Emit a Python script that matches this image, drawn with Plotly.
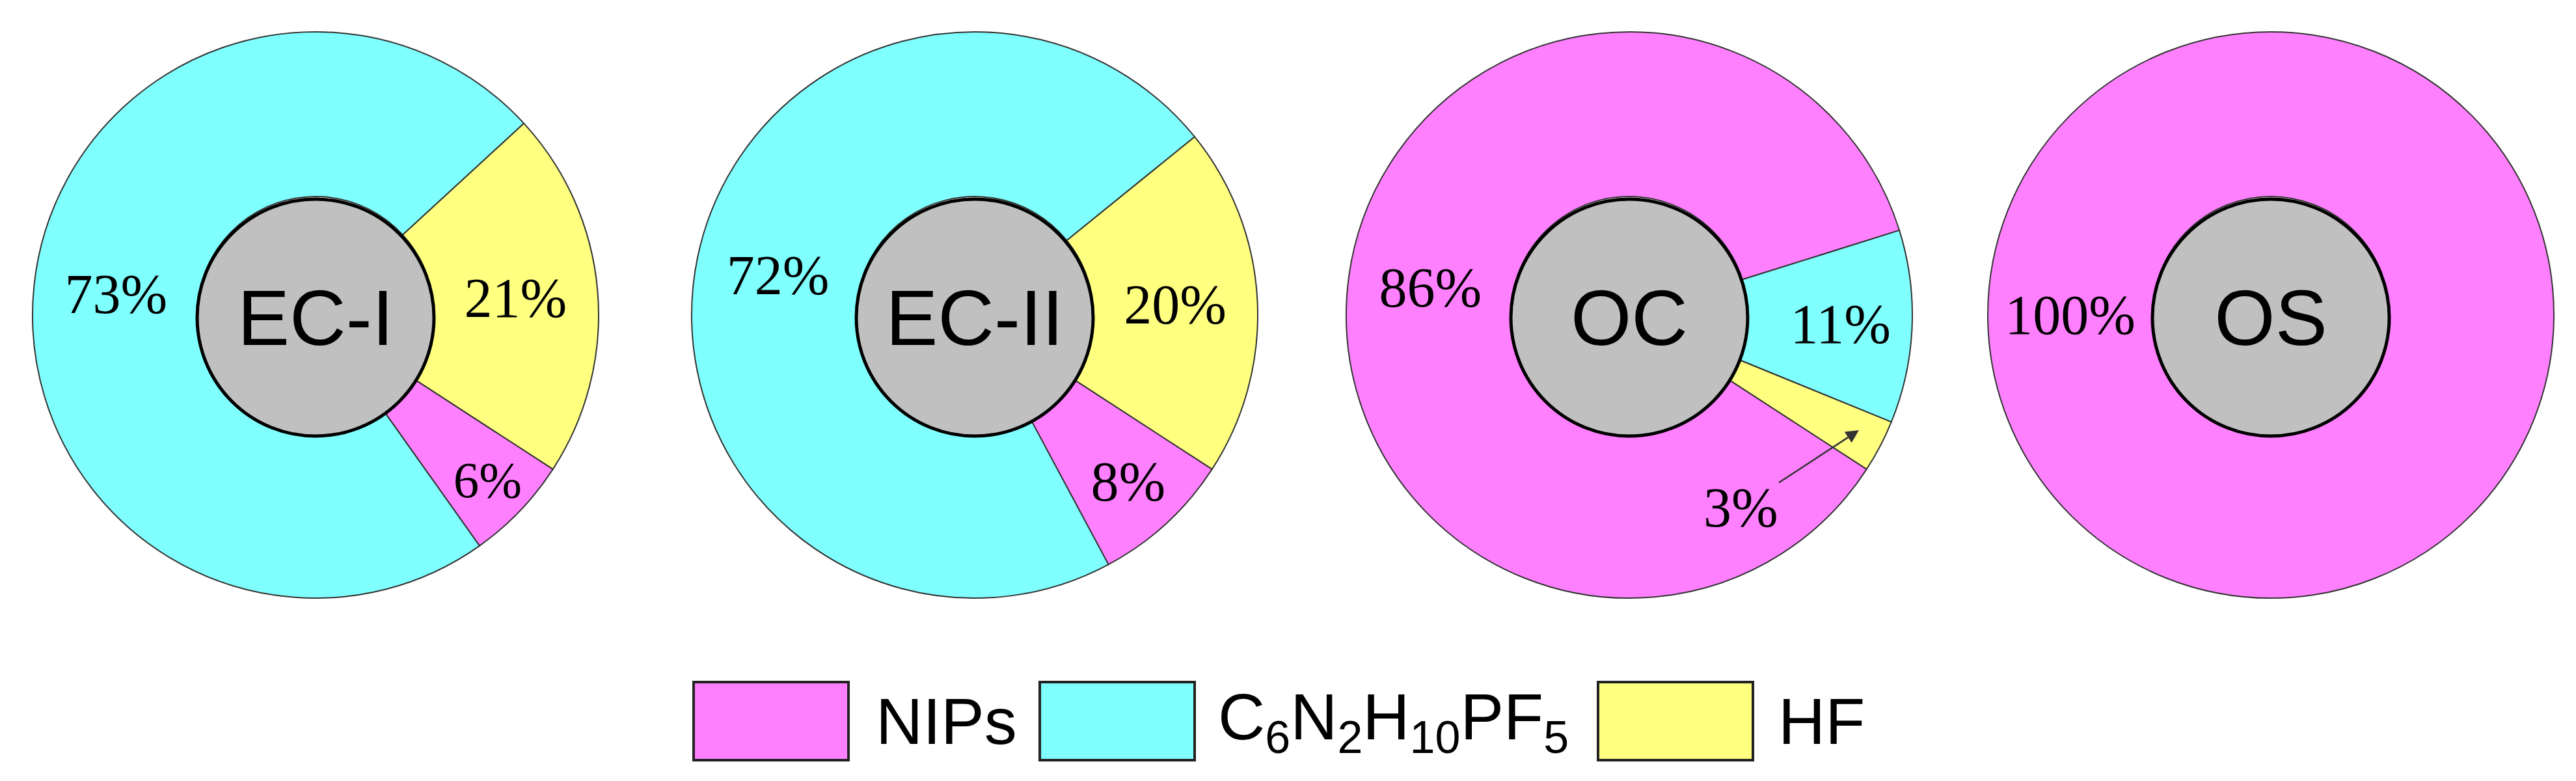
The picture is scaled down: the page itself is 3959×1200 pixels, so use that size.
import plotly.graph_objects as go

# composition of each sample, in percent
samples = ["EC-I", "EC-II", "OC", "OS"]
components = ["NIPs", "C<sub>6</sub>N<sub>2</sub>H<sub>10</sub>PF<sub>5</sub>", "HF"]
nips = [6, 8, 86, 100]
c6n2h10pf5 = [73, 72, 11, 0]
hf = [21, 20, 3, 0]

colors = ["#FF80FF", "#80FFFF", "#FFFF80"]

W, H = 3959, 1200
centers_x = [477, 1490, 2496, 3482]
center_y = 476
r_out = 435
r_in = 182
rotations = [123, 123, 123, 90]


def dom(cx, cy, r):
    return dict(x=[(cx - r) / W, (cx + r) / W], y=[1 - (cy + r) / H, 1 - (cy - r) / H])


fig = go.Figure()

for i, name in enumerate(samples):
    vals = [nips[i], c6n2h10pf5[i], hf[i]]
    labs, v2, cols, txt = [], [], [], []
    for lab, v, c in zip(components, vals, colors):
        if v <= 0:
            continue
        labs.append(lab)
        v2.append(v)
        cols.append(c)
        # the small OC slice gets an arrow label instead
        txt.append("" if (name == "OC" and lab == "HF") else f"{v}%")

    fig.add_trace(go.Pie(
        values=v2, labels=labs, text=txt, textinfo="text",
        textposition="inside", insidetextorientation="horizontal",
        hole=r_in / r_out, sort=False, direction="clockwise",
        rotation=rotations[i],
        marker=dict(colors=cols, line=dict(color="#333333", width=2)),
        insidetextfont=dict(family="Liberation Serif", size=86, color="black"),
        domain=dom(centers_x[i], center_y, r_out),
        showlegend=False, hoverinfo="label+value",
    ))

    # grey centre disc with the sample name, on top of the ring
    fig.add_trace(go.Pie(
        values=[1], labels=[name], text=[name], textinfo="text",
        textposition="inside", insidetextorientation="horizontal",
        marker=dict(colors=["#C0C0C0"], line=dict(color="black", width=5)),
        insidetextfont=dict(family="Liberation Sans", size=120, color="black"),
        domain=dom(centers_x[i], center_y + 4, r_in),
        sort=False, showlegend=False, hoverinfo="skip",
    ))

# arrow label for the 3% HF slice of OC
fig.add_annotation(
    x=2849 / W, y=1 - 653 / H, xref="paper", yref="paper",
    text=f"{hf[2]}%", showarrow=True, ax=-182, ay=119,
    arrowhead=2, arrowsize=1.6, arrowwidth=2.5, arrowcolor="#333333",
    font=dict(family="Liberation Serif", size=86, color="black"),
)

# legend drawn as big boxes under the pies
box_x = [1058, 1590, 2448]
text_x = [1336, 1862, 2723]
box_w = 238
box_top, box_bot = 1040, 1160
for bx, tx, lab, c in zip(box_x, text_x, components, colors):
    fig.add_shape(
        type="rect", xref="paper", yref="paper",
        x0=bx / W, x1=(bx + box_w) / W, y0=1 - box_bot / H, y1=1 - box_top / H,
        fillcolor=c, line=dict(color="#222222", width=4),
    )
    fig.add_annotation(
        x=tx / W, y=1 - (box_top + box_bot) / 2 / H, xref="paper", yref="paper",
        text=lab, showarrow=False, xanchor="left", yanchor="middle",
        font=dict(family="Liberation Sans", size=100, color="black"),
    )

fig.update_layout(
    width=W, height=H,
    margin=dict(l=0, r=0, t=0, b=0),
    paper_bgcolor="white", plot_bgcolor="white",
)

fig.write_html("out.html")
